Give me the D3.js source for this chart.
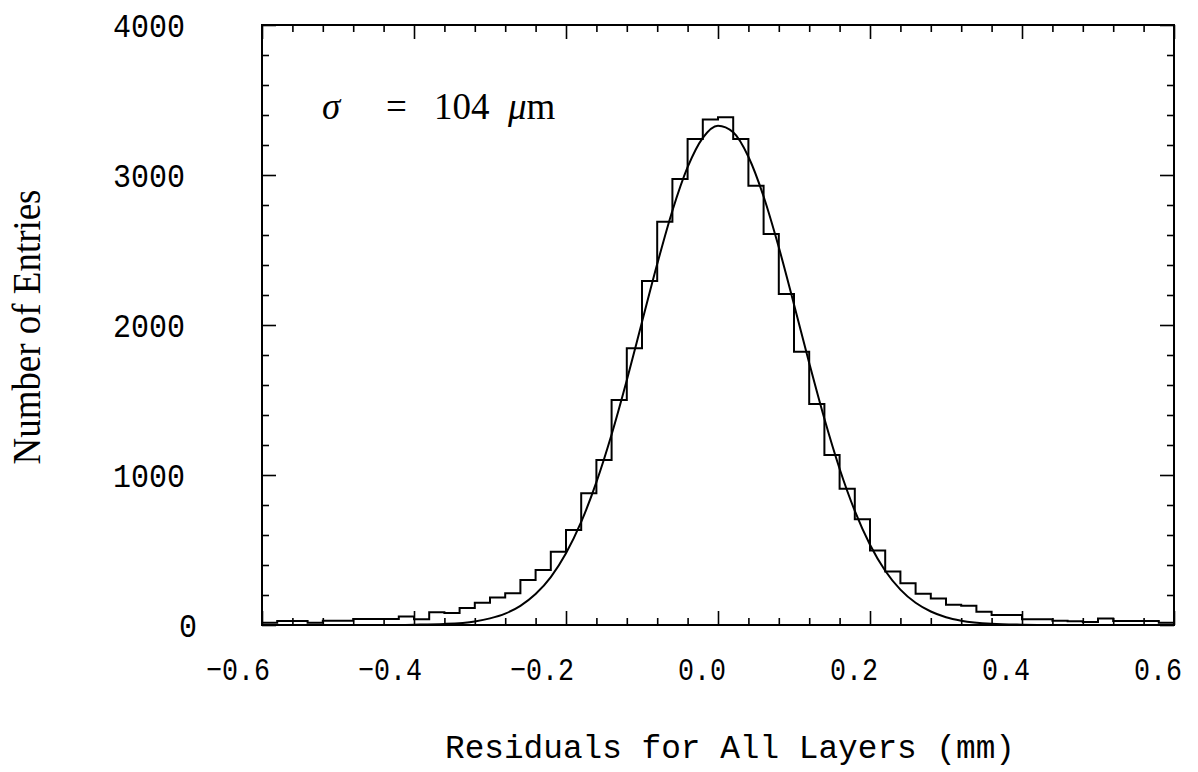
<!DOCTYPE html>
<html>
<head>
<meta charset="utf-8">
<script src="https://cdn.jsdelivr.net/npm/d3@7"></script>
<style>
  html, body { margin: 0; padding: 0; background: #fff; }
  svg { display: block; }
  .frame { fill: none; stroke: #000; stroke-width: 2; }
  .tick line { stroke: #000; stroke-width: 1.6; }
  .hist { fill: none; stroke: #000; stroke-width: 2; }
  .fit { fill: none; stroke: #000; stroke-width: 2; }
  .lbl { font-family: "Liberation Mono", "DejaVu Sans Mono", monospace; fill: #000; }
</style>
</head>
<body>
<div id="view"></div>
<script>
// histogram bin edges (mm) and counts
const binEdges = [
  -0.60, -0.58, -0.56, -0.54, -0.52, -0.50, -0.48, -0.46, -0.44, -0.42,
  -0.40, -0.38, -0.36, -0.34, -0.32, -0.30, -0.28, -0.26, -0.24, -0.22,
  -0.20, -0.18, -0.16, -0.14, -0.12, -0.10, -0.08, -0.06, -0.04, -0.02,
   0.00,  0.02,  0.04,  0.06,  0.08,  0.10,  0.12,  0.14,  0.16,  0.18,
   0.20,  0.22,  0.24,  0.26,  0.28,  0.30,  0.32,  0.34,  0.36,  0.38,
   0.40,  0.42,  0.44,  0.46,  0.48,  0.50,  0.52,  0.54,  0.56,  0.58,
   0.60
];
const binCounts = [
    15,   27,   27,   15,   29,   29,   40,   40,   40,   56,
    38,   85,   80,  113,  149,  184,  211,  300,  367,  489,
   633,  878, 1100, 1500, 1845, 2293, 2689, 2973, 3240, 3370,
  3385, 3240, 2929, 2606, 2207, 1822, 1473, 1133,  909,  705,
   496,  356,  278,  209,  176,  135,  128,   89,   67,   67,
    38,   38,   29,   25,   20,   44,   27,   27,   27,   15
];

// gaussian fit curve
const fitX = [-0.60, -0.44, -0.40, -0.36, -0.32, -0.30, -0.28, -0.26, -0.24, -0.22,
              -0.20, -0.18, -0.16, -0.14, -0.12, -0.10, -0.08, -0.06, -0.04, -0.02,
               0.00,  0.02,  0.04,  0.06,  0.08,  0.10,  0.12,  0.14,  0.16,  0.18,
               0.20,  0.22,  0.24,  0.26,  0.28,  0.30,  0.32,  0.36,  0.40,  0.44, 0.60];
const fitY = [0, 0, 2, 7, 24, 44, 76, 128, 206, 319,
              478, 687, 952, 1270, 1632, 2020, 2406, 2762, 3052, 3248,
              3329, 3285, 3122, 2857, 2518, 2137, 1747, 1375, 1042, 761,
              535, 362, 236, 148, 90, 52, 29, 8, 2, 0, 0];

const xTicks = [-0.6, -0.4, -0.2, 0.0, 0.2, 0.4, 0.6];
const xTickLabels = ["\u22120.6", "\u22120.4", "\u22120.2", "0.0", "0.2", "0.4", "0.6"];
const xMinor = [-0.56, -0.52, -0.48, -0.44, -0.36, -0.32, -0.28, -0.24, -0.16, -0.12, -0.08, -0.04,
                0.04, 0.08, 0.12, 0.16, 0.24, 0.28, 0.32, 0.36, 0.44, 0.48, 0.52, 0.56];
const yTicks = [0, 1000, 2000, 3000, 4000];
const yTickLabels = ["0", "1000", "2000", "3000", "4000"];
const yMinor = [200, 400, 600, 800, 1200, 1400, 1600, 1800, 2200, 2400, 2600, 2800,
                3200, 3400, 3600, 3800];

const xTitle = "Residuals for All Layers (mm)";
const yTitle = "Number of Entries";

(function () {
  const W = 1198, H = 772;
  const L = 262, R = 1174, T = 25, B = 625;

  const svg = d3.select("#view").append("svg")
    .attr("width", W).attr("height", H);

  const x = d3.scaleLinear().domain([-0.6, 0.6]).range([L, R]);
  const y = d3.scaleLinear().domain([0, 4000]).range([B, T]);

  // ticks on all four sides, pointing inwards
  const addTicks = (axisFn, scale, vals, len, tr) => {
    const g = svg.append("g")
      .attr("transform", tr)
      .call(axisFn(scale).tickValues(vals).tickSize(-len).tickFormat(""));
    g.select(".domain").remove();
  };
  addTicks(d3.axisBottom, x, xTicks, 14, `translate(0,${B})`);
  addTicks(d3.axisBottom, x, xMinor, 7, `translate(0,${B})`);
  addTicks(d3.axisTop, x, xTicks, 14, `translate(0,${T})`);
  addTicks(d3.axisTop, x, xMinor, 7, `translate(0,${T})`);
  addTicks(d3.axisLeft, y, yTicks, 14, `translate(${L},0)`);
  addTicks(d3.axisLeft, y, yMinor, 7, `translate(${L},0)`);
  addTicks(d3.axisRight, y, yTicks, 14, `translate(${R},0)`);
  addTicks(d3.axisRight, y, yMinor, 7, `translate(${R},0)`);

  // histogram outline (step)
  const pts = [[binEdges[0], 0]];
  binCounts.forEach((c, i) => {
    pts.push([binEdges[i], c]);
    pts.push([binEdges[i + 1], c]);
  });
  pts.push([binEdges[binEdges.length - 1], 0]);
  svg.append("path")
    .attr("class", "hist")
    .attr("d", d3.line().x(d => x(d[0])).y(d => y(d[1]))(pts));

  // fit curve
  svg.append("path")
    .attr("class", "fit")
    .attr("d", d3.line().curve(d3.curveMonotoneX)
      .x((d, i) => x(fitX[i])).y(d => y(d))(fitY));

  svg.append("rect")
    .attr("class", "frame")
    .attr("x", L).attr("y", T)
    .attr("width", R - L).attr("height", B - T);

  // x tick labels
  svg.append("g").selectAll("text")
    .data(xTicks)
    .join("text")
    .attr("class", "lbl")
    .attr("x", d => x(d) + 8)
    .attr("y", 680)
    .attr("text-anchor", "end")
    .style("font-size", "32px")
    .attr("textLength", (d, i) => xTickLabels[i].length * 16)
    .attr("lengthAdjust", "spacingAndGlyphs")
    .text((d, i) => xTickLabels[i]);

  // y tick labels
  svg.append("g").selectAll("text")
    .data(yTicks)
    .join("text")
    .attr("class", "lbl")
    .attr("x", d => d === 0 ? 197 : 185)
    .attr("y", d => y(d) + 12)
    .attr("text-anchor", "end")
    .style("font-size", "34px")
    .attr("textLength", (d, i) => yTickLabels[i].length * 18)
    .attr("lengthAdjust", "spacingAndGlyphs")
    .text((d, i) => yTickLabels[i]);

  // axis titles
  svg.append("text")
    .attr("class", "lbl")
    .attr("x", 445).attr("y", 758)
    .style("font-size", "34px")
    .attr("textLength", 570)
    .attr("lengthAdjust", "spacingAndGlyphs")
    .text(xTitle);

  svg.append("text")
    .attr("transform", "translate(40,327) rotate(-90)")
    .attr("text-anchor", "middle")
    .style("font-family", "'Liberation Serif', serif")
    .style("font-size", "40px")
    .attr("textLength", 275)
    .attr("lengthAdjust", "spacingAndGlyphs")
    .text(yTitle);

  // sigma annotation
  const ann = svg.append("text")
    .attr("y", 119)
    .style("font-family", "'Liberation Serif', serif")
    .style("font-size", "37px");
  ann.append("tspan").attr("x", 322).style("font-style", "italic").text("\u03C3");
  ann.append("tspan").attr("x", 386).text("=");
  ann.append("tspan").attr("x", 434).text("104");
  ann.append("tspan").attr("x", 508).style("font-style", "italic").text("\u03BC");
  ann.append("tspan").text("m");
})();
</script>
</body>
</html>
